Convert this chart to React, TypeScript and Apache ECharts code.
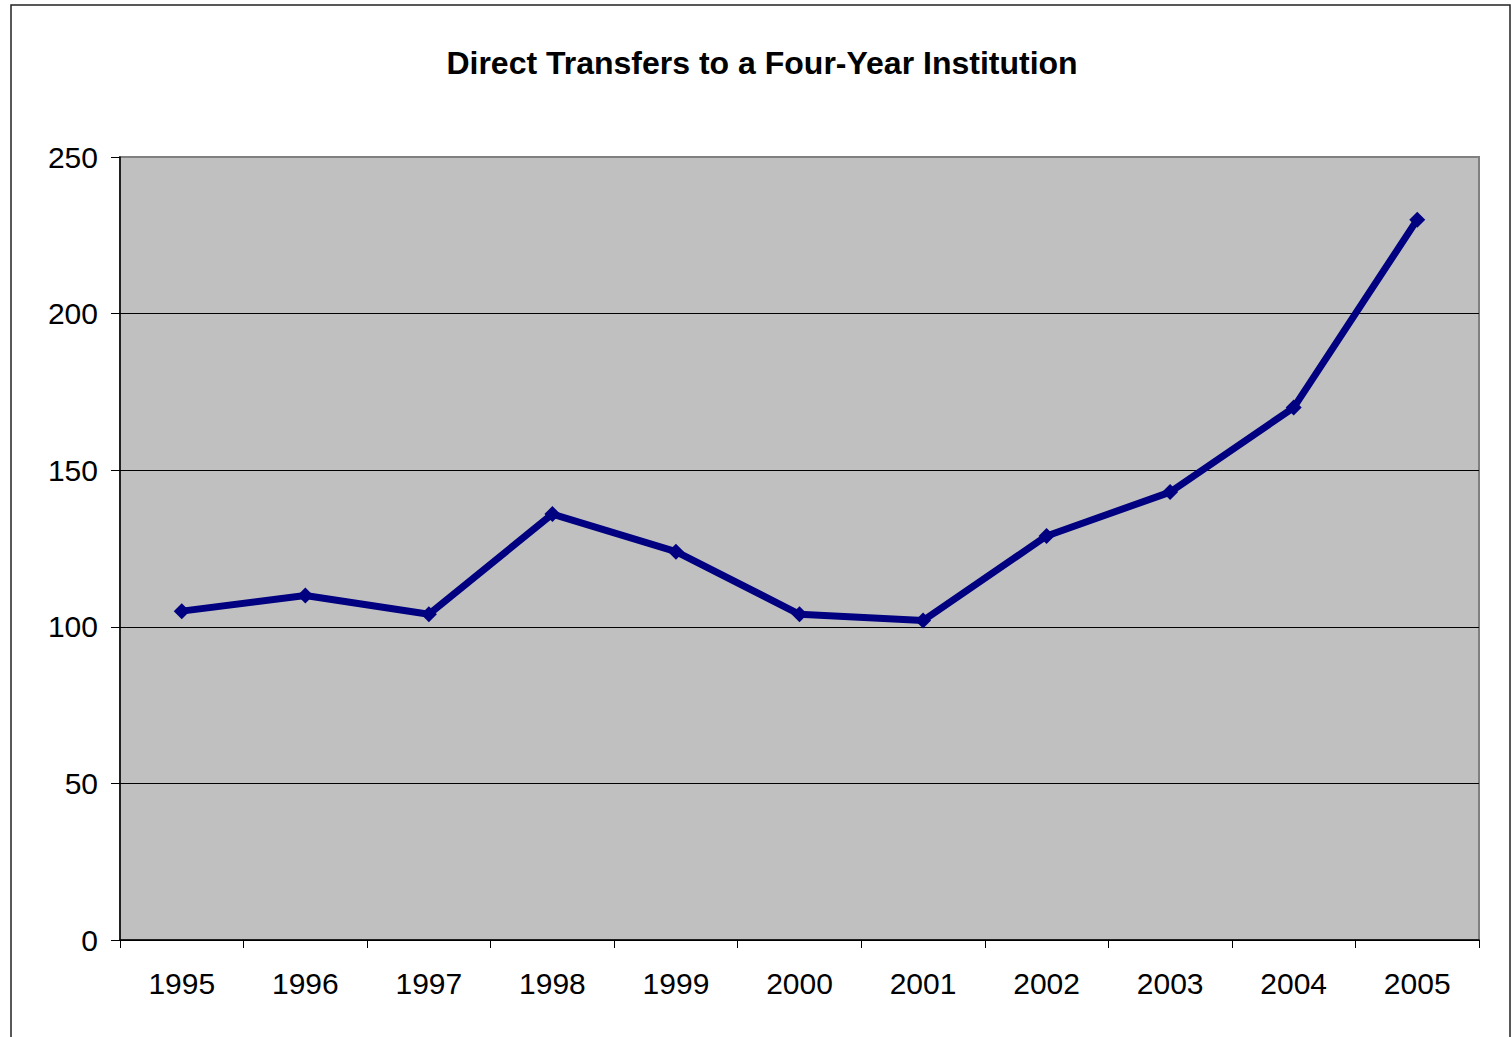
import React, { useEffect, useRef } from "react";
import * as echarts from "echarts";

const years = ["1995", "1996", "1997", "1998", "1999", "2000", "2001", "2002", "2003", "2004", "2005"];
const transfers = [105, 110, 104, 136, 124, 104, 102, 129, 143, 170, 230];
const titleText = "Direct Transfers to a Four-Year Institution";

export default function App() {
  const ref = useRef<HTMLDivElement>(null);
  useEffect(() => {
    document.body.style.margin = "0";
    const chart = echarts.init(ref.current!, undefined, { renderer: "svg" });
    chart.setOption({
      animation: false,
      backgroundColor: "#ffffff",
      textStyle: { fontFamily: "Liberation Sans, Arial, sans-serif" },
      title: {
        text: titleText,
        left: 757,
        textAlign: "center",
        top: 42,
        textStyle: { fontSize: 32, fontWeight: "bold", color: "#000", fontFamily: "Liberation Sans, Arial, sans-serif" },
      },
      graphic: [
        {
          type: "rect",
          shape: { x: 11, y: 5, width: 1499, height: 1045 },
          style: { fill: "none", stroke: "#222", lineWidth: 1.5 },
          silent: true,
          z: -1,
        },
      ],
      grid: {
        left: 120,
        right: 32,
        top: 157,
        bottom: 97,
        show: true,
        backgroundColor: "#c0c0c0",
        borderColor: "#808080",
        borderWidth: 2,
      },
      xAxis: {
        type: "category",
        data: years,
        boundaryGap: true,
        axisLine: { show: true, lineStyle: { color: "#000", width: 1.5 } },
        axisTick: { show: true, length: 8, alignWithLabel: false, lineStyle: { color: "#000" } },
        axisLabel: { color: "#000", fontSize: 30, margin: 28, fontFamily: "Liberation Sans, Arial, sans-serif" },
        splitLine: { show: false },
      },
      yAxis: {
        type: "value",
        min: 0,
        max: 250,
        interval: 50,
        axisLine: { show: true, lineStyle: { color: "#000", width: 1.5 } },
        axisTick: { show: true, length: 9, lineStyle: { color: "#000" } },
        axisLabel: { color: "#000", fontSize: 30, margin: 22, fontFamily: "Liberation Sans, Arial, sans-serif" },
        splitLine: {
          show: true,
          lineStyle: { color: ["#000", "#000", "#000", "#000", "#000", "#808080"], width: 1 },
        },
      },
      series: [
        {
          type: "line",
          data: transfers,
          symbol: "diamond",
          symbolSize: 16,
          lineStyle: { color: "#000080", width: 7 },
          itemStyle: { color: "#000080" },
        },
      ],
    });
    return () => chart.dispose();
  }, []);
  return <div ref={ref} style={{ position: "absolute", left: 0, top: 0, width: 1511, height: 1037 }} />;
}
